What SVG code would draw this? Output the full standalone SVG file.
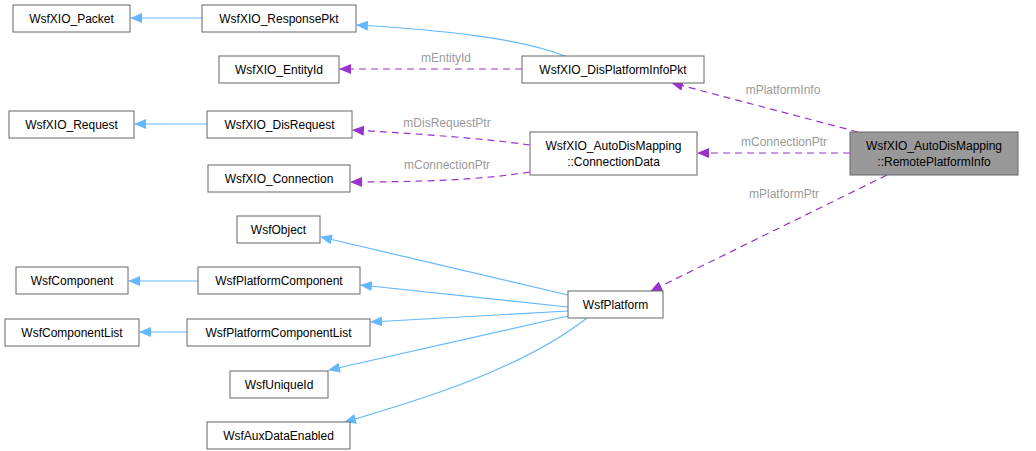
<svg xmlns="http://www.w3.org/2000/svg" width="1036" height="451" viewBox="0 0 1036 451">
<style>
.n rect{fill:#fff;stroke:#666;stroke-width:1}
.n text{font-family:"Liberation Sans",Arial,sans-serif;font-size:12px;fill:#000;text-anchor:middle}
.i{fill:none;stroke:#63b8ff;stroke-width:1.2}
.u{fill:none;stroke:#9a32cd;stroke-width:1.2;stroke-dasharray:7,5}
.l{font-family:"Liberation Sans",Arial,sans-serif;font-size:12px;fill:#9a9a9a;text-anchor:middle}
</style>
<defs>
<marker id="ab" markerWidth="12" markerHeight="10" refX="11" refY="5" orient="auto" markerUnits="userSpaceOnUse"><path d="M0,0 L12,5 L0,10 Z" fill="#63b8ff"/></marker>
<marker id="ap" markerWidth="12" markerHeight="10" refX="11" refY="5" orient="auto" markerUnits="userSpaceOnUse"><path d="M0,0 L12,5 L0,10 Z" fill="#9a32cd"/></marker>
</defs>
<rect width="1036" height="451" fill="#fff"/>
<g id="edges">
<path class="i" marker-end="url(#ab)" d="M202,18 L131,18"/>
<path class="i" marker-end="url(#ab)" d="M565,56 C520,38 440,30 357,25"/>
<path class="u" marker-end="url(#ap)" d="M522,69 L340,69"/>
<text class="l" x="446" y="62">mEntityId</text>
<path class="i" marker-end="url(#ab)" d="M207,124 L135,124"/>
<path class="u" marker-end="url(#ap)" d="M530,145 C480,138 420,134 353,130"/>
<text class="l" x="447" y="127">mDisRequestPtr</text>
<path class="u" marker-end="url(#ap)" d="M530,172 C480,180 420,182 351,182"/>
<text class="l" x="447" y="169">mConnectionPtr</text>
<path class="u" marker-end="url(#ap)" d="M858,132 L672,83"/>
<text class="l" x="783" y="94">mPlatformInfo</text>
<path class="u" marker-end="url(#ap)" d="M850,153 L698,153"/>
<text class="l" x="784" y="146">mConnectionPtr</text>
<path class="u" marker-end="url(#ap)" d="M887,175 L651,291"/>
<text class="l" x="784" y="198">mPlatformPtr</text>
<path class="i" marker-end="url(#ab)" d="M568,295 L321,237"/>
<path class="i" marker-end="url(#ab)" d="M568,307 L361,285"/>
<path class="i" marker-end="url(#ab)" d="M198,281 L129,281"/>
<path class="i" marker-end="url(#ab)" d="M568,311 L371,322"/>
<path class="i" marker-end="url(#ab)" d="M187,332 L140,332"/>
<path class="i" marker-end="url(#ab)" d="M568,316 L329,370"/>
<path class="i" marker-end="url(#ab)" d="M587,318 C520,370 420,400 345,422"/>
</g>
<g id="n1" class="n"><rect x="13" y="5" width="117" height="27"/><text x="71.5" y="23">WsfXIO_Packet</text></g>
<g id="n2" class="n"><rect x="202" y="5" width="154" height="27"/><text x="279" y="23">WsfXIO_ResponsePkt</text></g>
<g id="n3" class="n"><rect x="219" y="56" width="120" height="27"/><text x="279" y="74">WsfXIO_EntityId</text></g>
<g id="n4" class="n"><rect x="522" y="56" width="182" height="27"/><text x="613" y="74">WsfXIO_DisPlatformInfoPkt</text></g>
<g id="n5" class="n"><rect x="9" y="111" width="125" height="27"/><text x="71.5" y="129">WsfXIO_Request</text></g>
<g id="n6" class="n"><rect x="207" y="111" width="145" height="27"/><text x="279.5" y="129">WsfXIO_DisRequest</text></g>
<g id="n7" class="n"><rect x="208" y="165" width="142" height="27"/><text x="279" y="183">WsfXIO_Connection</text></g>
<g id="n8" class="n"><rect x="530" y="132" width="167" height="43"/><text x="613.5" y="150">WsfXIO_AutoDisMapping</text><text x="613.5" y="166">::ConnectionData</text></g>
<g id="n9" class="n"><rect x="850" y="132" width="168" height="43" style="fill:#999"/><text x="934" y="150">WsfXIO_AutoDisMapping</text><text x="934" y="166">::RemotePlatformInfo</text></g>
<g id="n10" class="n"><rect x="237" y="216" width="83" height="27"/><text x="278.5" y="234">WsfObject</text></g>
<g id="n11" class="n"><rect x="16" y="267" width="112" height="27"/><text x="72" y="285">WsfComponent</text></g>
<g id="n12" class="n"><rect x="198" y="267" width="162" height="27"/><text x="279" y="285">WsfPlatformComponent</text></g>
<g id="n13" class="n"><rect x="5" y="319" width="134" height="27"/><text x="72" y="337">WsfComponentList</text></g>
<g id="n14" class="n"><rect x="187" y="319" width="183" height="27"/><text x="278.5" y="337">WsfPlatformComponentList</text></g>
<g id="n15" class="n"><rect x="230" y="371" width="98" height="27"/><text x="279" y="389">WsfUniqueId</text></g>
<g id="n16" class="n"><rect x="207" y="422" width="143" height="27"/><text x="278.5" y="440">WsfAuxDataEnabled</text></g>
<g id="n17" class="n"><rect x="568" y="291" width="95" height="27"/><text x="615.5" y="309">WsfPlatform</text></g>
</svg>
